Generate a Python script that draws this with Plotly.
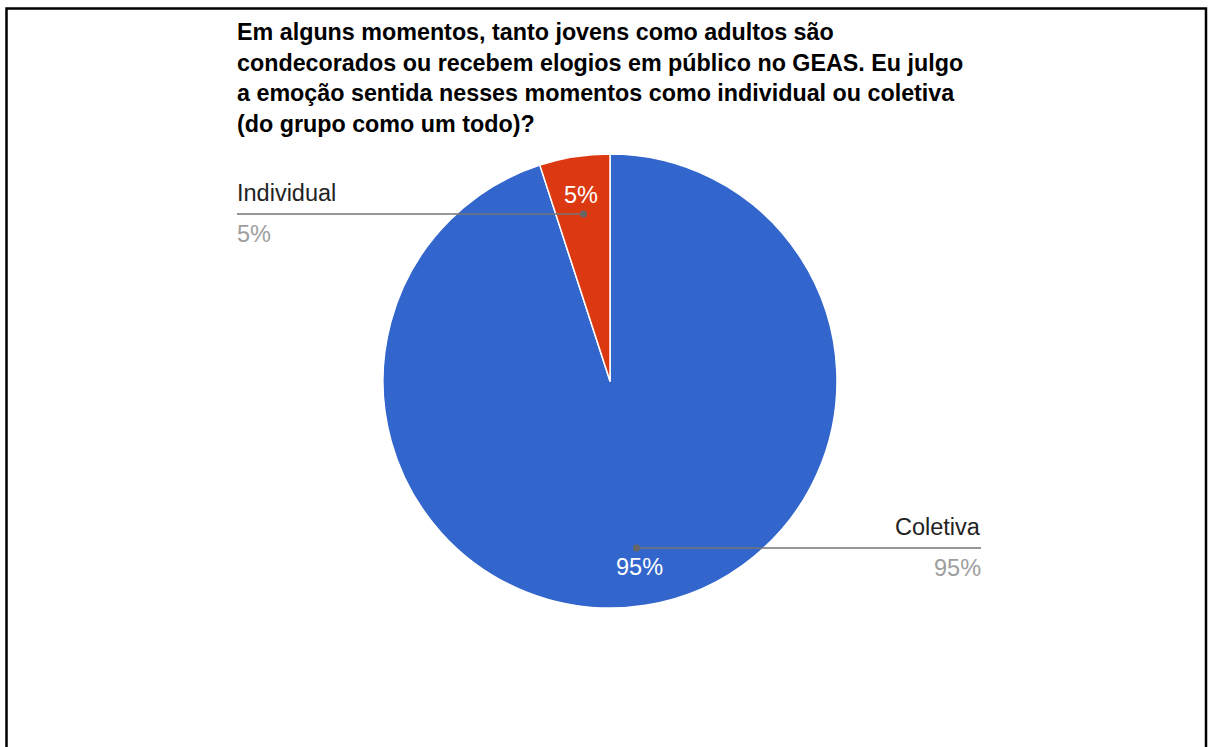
import math
import plotly.graph_objects as go

# Survey answers (share of respondents, %)
categories = ["Coletiva", "Individual"]
values = [95, 5]
colors = ["#3366CC", "#DC3912"]

title_lines = [
    "Em alguns momentos, tanto jovens como adultos são",
    "condecorados ou recebem elogios em público no GEAS. Eu julgo",
    "a emoção sentida nesses momentos como individual ou coletiva",
    "(do grupo como um todo)?",
]

# Canvas and pie geometry (pixels)
W, H = 1208, 747
CX, CY, R = 610, 381, 227
LEFT_X, RIGHT_X = 237, 981


def px(x):
    return x / W


def py(y):
    return 1 - y / H


fig = go.Figure()
fig.add_trace(go.Pie(
    labels=categories,
    values=values,
    sort=False,
    direction="clockwise",
    rotation=0,
    marker=dict(colors=colors, line=dict(color="white", width=1.5)),
    textinfo="none",
    hoverinfo="label+percent",
    showlegend=False,
    domain=dict(x=[px(CX - R), px(CX + R)], y=[py(CY + R), py(CY - R)]),
))

annotations = []
shapes = []

# Frame around the chart
shapes.append(dict(type="rect", xref="paper", yref="paper",
                   x0=px(6.5), x1=px(1206), y0=py(8.5), y1=py(H + 20),
                   line=dict(color="black", width=2.5), fillcolor="rgba(0,0,0,0)"))

# Title, one line per annotation for tight line spacing
for i, line in enumerate(title_lines):
    annotations.append(dict(
        text=f"<b>{line}</b>", xref="paper", yref="paper", x=px(LEFT_X - 2), y=py(32 + 30.7 * i),
        xanchor="left", yanchor="middle", showarrow=False,
        font=dict(family="Liberation Sans, Arial, sans-serif", size=23.3, color="#000000"),
    ))

total = sum(values)
start = 0.0
label_font = dict(family="Liberation Sans, Arial, sans-serif", size=23.5)
for name, val in zip(categories, values):
    frac = val / total
    mid = (start + frac / 2) * 2 * math.pi  # clockwise from 12 o'clock
    start += frac
    sx, sy = math.sin(mid), -math.cos(mid)
    pct = f"{round(frac * 100)}%"

    # Percentage inside the slice
    annotations.append(dict(
        text=pct, xref="paper", yref="paper",
        x=px(CX + 0.83 * R * sx), y=py(CY + 0.83 * R * sy),
        xanchor="center", yanchor="middle", showarrow=False,
        font=dict(label_font, color="white"),
    ))

    # Leader line with a dot on the slice
    dx, dy = CX + 0.745 * R * sx, CY + 0.745 * R * sy
    on_left = sx < 0
    end_x = LEFT_X if on_left else RIGHT_X
    shapes.append(dict(type="line", xref="paper", yref="paper",
                       x0=px(dx), x1=px(end_x), y0=py(dy), y1=py(dy),
                       line=dict(color="#757575", width=1.5)))
    shapes.append(dict(type="circle", xref="paper", yref="paper",
                       x0=px(dx - 3.5), x1=px(dx + 3.5), y0=py(dy + 3.5), y1=py(dy - 3.5),
                       line=dict(color="#666666", width=0), fillcolor="#666666"))

    anchor = "left" if on_left else "right"
    tx = end_x - 2 if on_left else end_x + 2
    annotations.append(dict(
        text=name, xref="paper", yref="paper", x=px(tx), y=py(dy - 21),
        xanchor=anchor, yanchor="middle", showarrow=False,
        font=dict(label_font, color="#222222"),
    ))
    annotations.append(dict(
        text=pct, xref="paper", yref="paper", x=px(tx), y=py(dy + 20),
        xanchor=anchor, yanchor="middle", showarrow=False,
        font=dict(label_font, color="#9E9E9E"),
    ))

fig.update_layout(
    width=W, height=H,
    margin=dict(l=0, r=0, t=0, b=0),
    paper_bgcolor="white", plot_bgcolor="white",
    annotations=annotations, shapes=shapes,
)

fig.write_html("out.html", config={"displayModeBar": False})
